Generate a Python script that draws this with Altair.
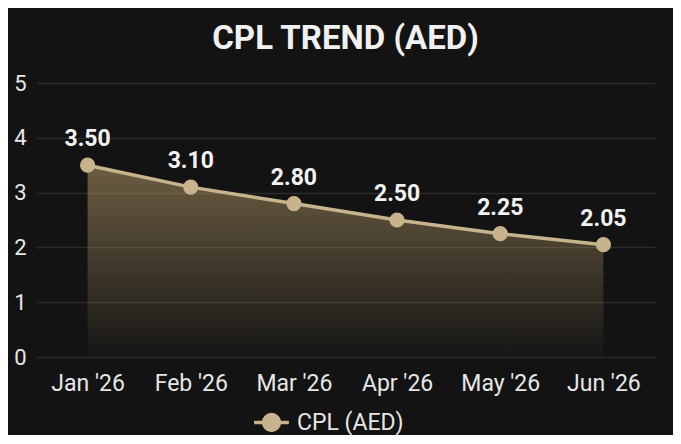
import altair as alt
import pandas as pd

# values
months = ["Jan '26", "Feb '26", "Mar '26", "Apr '26", "May '26", "Jun '26"]
cpl = [3.50, 3.10, 2.80, 2.50, 2.25, 2.05]
series = ["CPL (AED)"] * len(months)

df = pd.DataFrame({"month": months, "cpl": cpl, "series": series})

tan = "#c8b48c"
bg = "#131313"
font = "Roboto"

# legend symbol: a short line with a dot in the middle
line_dot = (
    "M-2.2,0 L2.2,0 "
    "M-1,0 A1,1 0 1,1 1,0 A1,1 0 1,1 -1,0 Z"
)

x_enc = alt.X(
    "month:N",
    sort=months,
    scale=alt.Scale(type="point", padding=0.5),
    axis=alt.Axis(
        title=None, labelAngle=0, labelFontSize=23, labelPadding=15,
        labelColor="#e6e6e6", labelFont=font, grid=False, domain=False, ticks=False,
    ),
)
y_enc = alt.Y(
    "cpl:Q",
    scale=alt.Scale(domain=[0, 5]),
    axis=alt.Axis(
        title=None, values=[0, 1, 2, 3, 4, 5], labelFontSize=22, labelPadding=10,
        labelColor="#e6e6e6", labelFont=font, domain=False, ticks=False,
        gridColor="#2b2b2b", gridWidth=1.5,
    ),
)

base = alt.Chart(df).encode(x=x_enc, y=y_enc)

area = base.mark_area(
    line=False,
    color=alt.Gradient(
        gradient="linear",
        stops=[
            alt.GradientStop(color="rgba(190,162,110,0.52)", offset=0),
            alt.GradientStop(color="rgba(190,162,110,0.02)", offset=1),
        ],
        x1=1, x2=1, y1=0, y2=1,
    ),
)

line = base.mark_line(strokeWidth=3.5).encode(
    color=alt.Color(
        "series:N",
        scale=alt.Scale(range=[tan]),
        legend=alt.Legend(
            title=None, orient="none", legendX=224, legendY=328,
            symbolType=line_dot, symbolSize=250, symbolStrokeWidth=3.5,
            symbolFillColor=tan, symbolStrokeColor=tan,
            labelFontSize=23, labelColor="#e6e6e6", labelFont=font, labelOffset=14,
        ),
    )
)

points = base.mark_circle(size=230, color=tan, opacity=1)

labels = base.mark_text(
    dy=-26, fontSize=23, fontWeight="bold", color="#f2f2f2", font=font
).encode(text=alt.Text("cpl:Q", format=".2f"))

chart = (
    (area + line + points + labels)
    .properties(
        width=619,
        height=274,
        background=bg,
        autosize=alt.AutoSizeParams(type="none"),
        padding={"left": 28, "top": 75, "right": 18, "bottom": 78},
        title=alt.TitleParams(
            "CPL TREND (AED)", fontSize=33, fontWeight="bold", color="#f0f0f0",
            font=font, anchor="middle", offset=16,
        ),
    )
    .configure_view(stroke=None)
)

chart.save("out.html", embed_options={"renderer": "svg", "actions": False})
